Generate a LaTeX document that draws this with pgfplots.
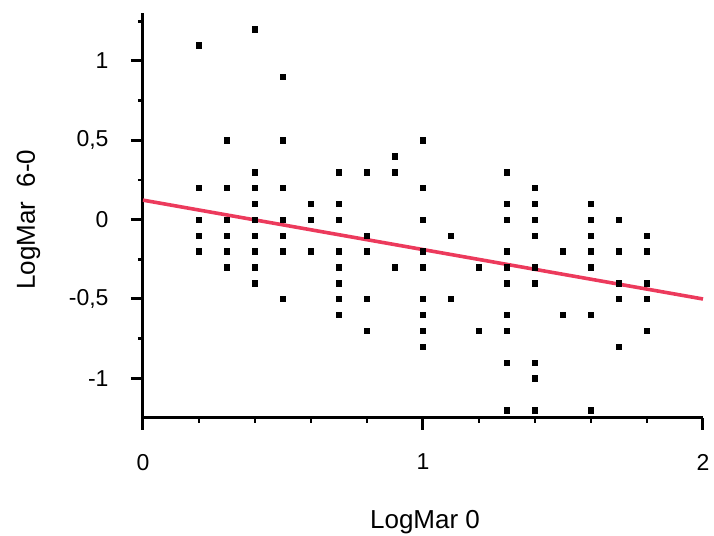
\documentclass[border=0pt]{standalone}
\usepackage{pgfplots}
\pgfplotsset{compat=1.18}
\usepackage{fontspec}
\setmainfont{Liberation Sans}
\definecolor{fitred}{RGB}{236,58,92}

\begin{document}
\begin{tikzpicture}
\useasboundingbox (-71.5pt,-59pt) rectangle (285.5pt,209pt);
\begin{axis}[
  at={(0pt,0pt)}, anchor=south west,
  scale only axis, width=280pt, height=202.3pt,
  xmin=0, xmax=2, ymin=-1.25, ymax=1.3,
  axis lines*=left,
  axis line style={line width=1.5pt, black},
  xtick={0,1,2}, xticklabels={0,1,2},
  minor xtick={0.2,0.4,0.6,0.8,1.2,1.4,1.6,1.8},
  ytick={-1,-0.5,0,0.5,1}, yticklabels={-1,{-0,5},0,{0,5},1},
  minor ytick={-0.75,-0.25,0.25,0.75,1.25},
  tick align=outside,
  major tick length=6pt, minor tick length=2.5pt,
  major tick style={line width=1.5pt, black},
  minor tick style={line width=1.2pt, black},
  tick label style={font=\fontsize{11.5}{13}\selectfont},
  yticklabel style={xshift=-7.7pt},
  xticklabel style={yshift=-8.5pt},
  xlabel={LogMar 0},
  ylabel={LogMar\ \ 6-0},
  label style={font=\fontsize{13}{15}\selectfont},
  xlabel style={at={(axis description cs:0.5036,-0.272)}, anchor=base},
  ylabel style={at={(axis description cs:-0.193,0.49)}, anchor=base},
  clip=false,
]
\addplot[only marks, mark=square*, mark size=1.35pt,
  mark options={fill=black, draw=black, line width=0.2pt}]
  coordinates {
  (0.2,1.1)(0.2,0.2)(0.2,0)(0.2,-0.1)(0.2,-0.2)
  (0.3,0.5)(0.3,0.2)(0.3,0)(0.3,-0.1)(0.3,-0.2)(0.3,-0.3)
  (0.4,1.2)(0.4,0.3)(0.4,0.2)(0.4,0.1)(0.4,0)(0.4,-0.1)(0.4,-0.2)(0.4,-0.3)(0.4,-0.4)
  (0.5,0.9)(0.5,0.5)(0.5,0.2)(0.5,0)(0.5,-0.1)(0.5,-0.2)(0.5,-0.5)
  (0.6,0.1)(0.6,0)(0.6,-0.2)
  (0.7,0.3)(0.7,0.1)(0.7,0)(0.7,-0.2)(0.7,-0.3)(0.7,-0.4)(0.7,-0.5)(0.7,-0.6)
  (0.8,0.3)(0.8,-0.1)(0.8,-0.2)(0.8,-0.5)(0.8,-0.7)
  (0.9,0.4)(0.9,0.3)(0.9,-0.3)
  (1.0,0.5)(1.0,0.2)(1.0,0)(1.0,-0.2)(1.0,-0.3)(1.0,-0.5)(1.0,-0.6)(1.0,-0.7)(1.0,-0.8)
  (1.1,-0.1)(1.1,-0.5)
  (1.2,-0.3)(1.2,-0.7)
  (1.3,0.3)(1.3,0.1)(1.3,0)(1.3,-0.2)(1.3,-0.3)(1.3,-0.4)(1.3,-0.6)(1.3,-0.7)(1.3,-0.9)(1.3,-1.2)
  (1.4,0.2)(1.4,0.1)(1.4,0)(1.4,-0.1)(1.4,-0.3)(1.4,-0.4)(1.4,-0.9)(1.4,-1.0)(1.4,-1.2)
  (1.5,-0.2)(1.5,-0.6)
  (1.6,0.1)(1.6,0)(1.6,-0.1)(1.6,-0.2)(1.6,-0.3)(1.6,-0.6)(1.6,-1.2)
  (1.7,0)(1.7,-0.2)(1.7,-0.4)(1.7,-0.5)(1.7,-0.8)
  (1.8,-0.1)(1.8,-0.2)(1.8,-0.4)(1.8,-0.5)(1.8,-0.7)
  };
\addplot[fitred, line width=1.8pt] coordinates {(0,0.123)(2,-0.50)};
\end{axis}
\end{tikzpicture}
\end{document}
